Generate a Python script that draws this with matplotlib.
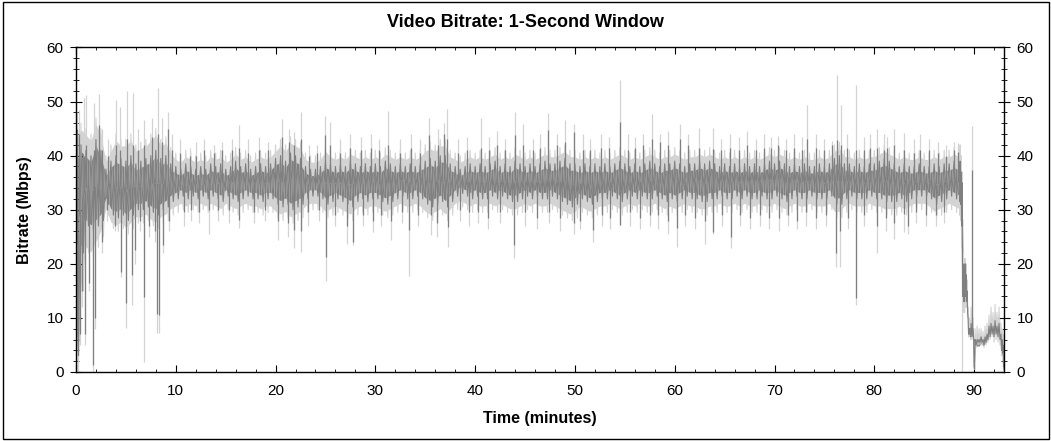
import numpy as np
import matplotlib
matplotlib.use("Agg")
import matplotlib.pyplot as plt
from matplotlib.ticker import MultipleLocator
from matplotlib.patches import Rectangle

plt.rcParams['font.family'] = ['Liberation Sans', 'DejaVu Sans']

# band values every 0.5 minutes from 0 to 88.5 (one row = 5 minutes)
light_hi = [
    44, 46, 45, 44, 47, 45, 40, 42, 44, 43,
    43, 44, 42, 42.5, 43, 44, 45, 43, 43.5, 41.5,
    40.5, 40, 41, 40.5, 40, 40.5, 40, 41, 40.5, 41,
    40, 40.5, 41.5, 40.5, 41, 40, 40.5, 41, 40.5, 41,
    42, 43, 42, 43.5, 43, 42.5, 40.5, 40, 40, 40.5,
    42, 41, 40.5, 41, 40.5, 41.5, 41, 40.5, 41, 40.5,
    41, 40.5, 41.5, 41, 40.5, 41, 40.5, 41, 40.5, 41,
    42, 42.5, 42, 43, 43, 41, 40.5, 40, 40.5, 41,
    40.5, 41, 40.5, 41, 41.5, 40.5, 41, 40.5, 41.5, 41,
    40.5, 41, 40.5, 41, 41.5, 41, 41, 41.5, 42, 41,
    41, 40.5, 41, 40.5, 41, 40.5, 41, 40.5, 41, 41.5,
    41, 40.5, 41, 40.5, 41, 41.5, 41, 40.5, 41, 41,
    41.5, 41, 40.5, 41, 41, 41.5, 41, 41.5, 41, 40.5,
    41, 40.5, 41, 40.5, 41, 40.5, 41, 40.5, 41, 41.5,
    41, 41.5, 41, 40.5, 41, 40.5, 41, 40.5, 40.5, 41,
    40.5, 41, 42, 42.5, 41, 41, 40.5, 41, 40.5, 41,
    41, 41.5, 42, 41.5, 41, 40.5, 41, 40.5, 40.5, 41,
    40.5, 40.5, 41, 40.5, 41, 41, 41.5, 41,
]
dark_hi = [
    40, 42, 41, 40, 43, 41, 37.5, 39, 40, 39.5,
    39, 40, 38.5, 39, 39.5, 40, 41, 39.5, 40, 38.5,
    38, 37.5, 38.5, 38, 37.5, 38, 37.5, 38.5, 38, 38.5,
    37.5, 38, 39, 38, 38.5, 37.5, 38, 38.5, 38, 38.5,
    39.5, 40, 39, 40.5, 40, 39.5, 38, 37.5, 37.5, 38,
    39, 38.5, 38, 38.5, 38, 39, 38.5, 38, 38.5, 38,
    38.5, 38, 39, 38.5, 38, 38.5, 38, 38.5, 38, 38.5,
    39, 39.5, 39, 40, 40, 38.5, 38, 37.5, 38, 38.5,
    38, 38.5, 38, 38.5, 39, 38, 38.5, 38, 39, 38.5,
    38, 38.5, 38, 38.5, 39, 38.5, 38.5, 39, 39.5, 38.5,
    38.5, 38, 38.5, 38, 38.5, 38, 38.5, 38, 38.5, 39,
    38.5, 38, 38.5, 38, 38.5, 39, 38.5, 38, 38.5, 38.5,
    39, 38.5, 38, 38.5, 38.5, 39, 38.5, 39, 38.5, 38,
    38.5, 38, 38.5, 38, 38.5, 38, 38.5, 38, 38.5, 39,
    38.5, 39, 38.5, 38, 38.5, 38, 38.5, 38, 38, 38.5,
    38, 38.5, 39.5, 40, 38.5, 38.5, 38, 38.5, 38, 38.5,
    38.5, 39, 39.5, 39, 38.5, 38, 38.5, 38, 38, 38.5,
    38, 38, 38.5, 38, 38.5, 38.5, 39, 38.5,
]
dark_lo = [
    3, 22, 27, 26, 27, 28, 31, 29, 28.5, 29,
    28, 29, 30, 30, 30.5, 29.5, 29, 30, 30.5, 31.5,
    32, 32.5, 32, 32.5, 32, 32.5, 32, 32.5, 32, 31.5,
    32.5, 32, 31.5, 32, 32.5, 32, 32, 31.5, 32, 32,
    31, 30.5, 31, 30, 30.5, 31, 32, 32.5, 32.5, 32,
    31, 31.5, 32, 31.5, 31, 30.5, 31.5, 32, 31.5, 32,
    32, 31.5, 31, 31.5, 32, 32.5, 32, 32, 32.5, 32,
    31, 30.5, 31, 31.5, 30.5, 31.5, 32.5, 33, 32.5, 32,
    32.5, 32, 32, 32.5, 32, 32.5, 32, 31.5, 31.5, 32,
    32.5, 32, 32.5, 32, 32, 32.5, 32, 31.5, 31, 30.5,
    31, 32, 31.5, 31, 31.5, 32, 32, 32.5, 32, 31.5,
    32, 32.5, 32, 32.5, 32, 32, 32.5, 32, 31.5, 32,
    31.5, 32, 32.5, 32, 32, 31.5, 31.5, 32, 32, 32.5,
    32, 32, 32.5, 32, 32.5, 32, 32, 32.5, 32, 32,
    32.5, 32, 31.5, 32, 32.5, 32, 32, 32.5, 32, 32,
    32, 32.5, 31, 31, 32, 32.5, 32, 32, 32, 32.5,
    32, 32, 31.5, 31.5, 31.5, 32, 31.5, 32, 32.5, 32.5,
    32.5, 32, 31, 31.5, 32, 32.5, 32, 31.5,
]
light_lo = [
    0, 15, 22, 21, 23, 25, 29, 26.5, 26, 26.5,
    25.5, 26.5, 27.5, 27.5, 28, 27, 26.5, 27.5, 28, 29,
    29.5, 30, 29.5, 30, 29.5, 30, 29.5, 30, 29.5, 29,
    30, 29.5, 29, 29.5, 30, 29.5, 29.5, 29, 29.5, 29.5,
    28.5, 28, 28.5, 27.5, 28, 28.5, 29.5, 30, 30, 29.5,
    28.5, 29, 29.5, 29, 28.5, 28, 29, 29.5, 29, 29.5,
    29.5, 29, 28.5, 29, 29.5, 30, 29.5, 29.5, 30, 29.5,
    28.5, 28, 28.5, 29, 28, 29, 30, 30.5, 30, 29.5,
    30, 29.5, 29.5, 30, 29.5, 30, 29.5, 29, 29, 29.5,
    30, 29.5, 30, 29.5, 29.5, 30, 29.5, 29, 28.5, 28,
    28.5, 29.5, 29, 28.5, 29, 29.5, 29.5, 30, 29.5, 29,
    29.5, 30, 29.5, 30, 29.5, 29.5, 30, 29.5, 29, 29.5,
    29, 29.5, 30, 29.5, 29.5, 29, 29, 29.5, 29.5, 30,
    29.5, 29.5, 30, 29.5, 30, 29.5, 29.5, 30, 29.5, 29.5,
    30, 29.5, 29, 29.5, 30, 29.5, 29.5, 30, 29.5, 29.5,
    29.5, 30, 28.5, 28.5, 29.5, 30, 29.5, 29.5, 29.5, 30,
    29.5, 29.5, 29, 29, 29, 29.5, 29, 29.5, 30, 30,
    30, 29.5, 28.5, 29, 29.5, 30, 29.5, 29,
]

# end of the programme (minutes 88.6 - 93)
tail_t = [88.6, 88.7, 88.8, 88.9, 89.0, 89.1, 89.2, 89.3, 89.4, 89.5,
          89.6, 89.7, 89.9, 90.0, 90.1, 90.3, 90.5, 90.7, 90.9, 91.1,
          91.3, 91.5, 91.7, 91.9, 92.1, 92.3, 92.5, 92.7, 92.8, 92.9, 93.0]
tail_light_hi = [42, 40, 37, 22, 21, 21, 20, 17, 12, 10, 9.5, 12, 10, 2, 8,
                 8.5, 8, 8, 7.5, 8.5, 9, 10.5, 12, 11, 12.5, 11, 12, 9, 8, 7, 2]
tail_dark_hi = [39, 37, 35, 20, 19, 20, 18, 15, 10, 8, 8, 9, 8, 1, 6,
                6, 6, 6.5, 6, 6.5, 7, 8.5, 9, 8.5, 9.5, 8.5, 9, 7, 6, 5, 1]
tail_dark_lo = [31, 27, 14, 13, 13, 14, 13, 11, 7, 7, 6.5, 6.5, 6.5, 0.5, 5,
                5.5, 5.5, 5.5, 5, 5.5, 6, 6.5, 7, 6.5, 7, 6.5, 6, 4, 3.5, 1, 0]
tail_light_lo = [28, 23, 11, 11, 11, 12, 12, 10, 6.5, 6.5, 6, 6, 6, 0.5, 4.5,
                 5, 5, 5, 4.5, 5, 5.5, 6, 6.5, 5.5, 6, 5.5, 5, 3, 3, 0.5, 0]

# upward peaks: time, light top, dark top
up_t = [0.1, 0.35, 0.77, 1.0, 1.84, 2.34, 2.6, 3.2, 4.0, 4.42, 5.15, 5.68, 6.2,
        6.85, 7.6, 8.2, 8.6, 9.2, 9.6, 10.4, 11.4, 12.0, 12.8, 13.8, 14.6, 15.6,
        16.3, 17.2, 18.3, 19.2, 20.6, 21.3, 21.8, 22.5, 23.4, 24.2, 25.0, 25.45,
        26.5, 27.5, 28.6, 29.6, 30.4, 31.3, 32.5, 33.6, 34.5, 35.4, 36.3, 36.9,
        37.2, 38.3, 39.2, 40.6, 41.4, 42.2, 43.0, 44.0, 44.8, 45.8, 46.5, 47.3,
        48.2, 49.0, 49.9, 50.8, 51.5, 52.6, 53.4, 54.5, 55.3, 56.0, 56.8, 57.7,
        58.5, 59.3, 60.5, 61.3, 62.4, 63.8, 64.6, 65.5, 66.4, 67.2, 68.1, 68.9,
        69.6, 70.4, 71.2, 72.0, 72.8, 73.3, 74.2, 75.0, 75.8, 76.3, 76.7, 77.3,
        78.2, 79.0, 79.6, 80.3, 81.0, 81.3, 82.0, 83.0, 84.0, 84.6, 85.5, 86.4,
        87.2, 88.0, 88.4, 89.78]
up_light = [48, 48.5, 50.6, 51.2, 49.7, 51.4, 45, 43, 50.3, 49, 52, 51.6, 45,
            46.6, 47, 52.5, 47, 48, 44, 43, 41.5, 42.5, 43, 42, 42.6, 43,
            45.6, 43, 43.5, 42.5, 46.7, 45, 44.4, 48.1, 42, 42, 47.4, 46.3,
            43, 44, 43.5, 44, 43, 48.2, 43, 44, 43, 47.0, 45, 46,
            48.7, 43, 43.5, 46.9, 43.5, 44.5, 43, 48.1, 45.8, 43, 44, 47.9,
            44, 46.6, 45.9, 44, 43, 44, 43.5, 53.9, 44, 43.5, 44, 47.7,
            44, 44.5, 45.9, 44, 45.2, 45.2, 43, 44, 43.5, 44.5, 43, 44,
            43.5, 43.7, 43, 44, 43.5, 49.3, 44, 43, 42.8, 54.9, 49.3, 44,
            53, 43.5, 44, 45.0, 44, 43.5, 45, 44.1, 43, 44, 43, 42.5,
            42, 42.5, 42.3, 45.5]
up_dark = [45, 44, 40, 42, 41, 45.6, 41, 40, 42, 41, 43, 42, 41,
           42, 43.5, 44, 42.5, 45, 41, 40.5, 40, 40, 41, 40.5, 41, 41,
           41.5, 40.5, 41, 41, 43.5, 42.5, 42, 43, 40, 40.5, 43.8, 42,
           40.5, 41.5, 41, 41.5, 41, 42, 40.5, 41.5, 40.5, 43.9, 42, 44,
           43, 40.5, 41, 41.5, 41, 42, 41, 43.8, 42, 41, 41.5, 44.7,
           42, 42.5, 44.4, 41, 41, 41.5, 41.5, 46.3, 41, 41.5, 42, 43,
           42.5, 42, 43, 42, 41.5, 41.3, 41, 41.5, 41, 42, 41, 41.5,
           41.5, 42, 41, 41.5, 41, 43.1, 41.5, 41, 42, 42.9, 42, 41.5,
           41, 41, 41.5, 41.5, 41, 41.5, 42, 41, 40.5, 41, 41, 40.5,
           40, 41, 40.7, 37.3]

# downward drops: time, light bottom, dark bottom
down_t = [0.05, 0.2, 0.4, 0.6, 0.9, 1.3, 1.7, 1.86, 2.6, 3.1, 3.9, 4.48, 5.0,
          5.65, 5.9, 6.4, 6.85, 7.3, 7.9, 8.1, 8.3, 8.7, 9.3, 10.8, 11.5, 12.3,
          13.3, 14.2, 15.3, 16.3, 17.8, 18.9, 20.2, 21.2, 21.8, 22.5, 23.3, 24.4,
          25.1, 26.0, 27.2, 27.8, 28.8, 29.8, 30.6, 31.6, 32.7, 33.4, 34.3, 35.6,
          36.2, 37.3, 38.5, 39.4, 40.3, 41.3, 42.5, 43.9, 45.0, 46.2, 47.4, 48.5,
          49.9, 50.5, 51.8, 52.7, 53.5, 54.5, 55.5, 56.5, 57.5, 58.3, 59.3, 60.2,
          61.0, 62.0, 63.0, 63.8, 64.7, 65.6, 66.5, 67.5, 68.5, 69.4, 70.5, 71.4,
          72.3, 73.2, 74.2, 75.2, 76.2, 76.6, 77.4, 78.2, 79.0, 80.3, 81.2, 82.0,
          83.0, 83.4, 84.2, 85.2, 86.2, 87.0, 88.75]
down_light = [0, 3, 5, 12, 5, 15, 0, 8, 22, 28, 26, 17.5, 8.1,
              12.4, 20, 26, 1.8, 25, 24, 7.2, 7.2, 22, 26, 27, 28, 27.5,
              25.5, 28, 27.5, 26.6, 27.5, 28, 24.4, 25, 23, 22.1, 27, 28,
              16.9, 27, 23.7, 23.5, 27, 25.9, 27, 24.4, 27.5, 17.8, 27, 25.3,
              25, 23.1, 28, 27, 27.5, 26.5, 27.5, 21.0, 27, 26.5, 27.5, 26,
              25.6, 26.5, 24.0, 27, 26.5, 27.2, 27, 26.5, 27, 26.5, 25.6, 23.1,
              27, 26.5, 23.7, 25.5, 27, 22.9, 27, 26.5, 27, 26.5, 26, 27,
              26.5, 27, 26.5, 27, 19.5, 19.5, 26.5, 12.4, 27, 22.0, 26, 24.5,
              25.8, 25.5, 27.5, 27, 27, 27.5, 0]
down_dark = [0, 6, 7, 15, 7, 16.5, 1.3, 10, 24, 30, 27, 18.5, 12.8,
             17.9, 22.5, 28, 13.9, 27, 26, 10.7, 10.5, 23.5, 28, 29.5, 30, 29.5,
             30, 30, 30, 28.1, 29.5, 30, 28, 27.5, 26.2, 26, 29.5, 30,
             21.3, 29, 27, 24, 29, 28, 29, 28, 29.5, 26.2, 29, 29,
             27.5, 26.8, 30, 29.5, 29.5, 28.5, 29.5, 23.5, 29.5, 28.5, 29.5, 28.5,
             27.5, 28, 26.2, 29, 28.5, 27.2, 29.5, 28.5, 29, 29, 28, 26.6,
             29, 28.5, 28, 25.8, 29, 25.0, 29, 28.5, 29, 28.5, 28.5, 29,
             28, 29.5, 28.5, 29, 22.0, 26, 28.5, 13.6, 29, 27, 28.5, 27.5,
             29.3, 27, 29.5, 29, 29, 29.5, 27]

light_grey = '#d3d3d3'
dark_grey = '#808080'

t = np.concatenate([np.arange(len(dark_hi)) * 0.5, tail_t])
l_hi = np.concatenate([light_hi, tail_light_hi])
d_hi = np.concatenate([dark_hi, tail_dark_hi])
d_lo = np.concatenate([dark_lo, tail_dark_lo])
l_lo = np.concatenate([light_lo, tail_light_lo])
mid = (d_hi + d_lo) / 2


def zigzag(times, lo, hi):
    # alternate between the top and bottom of a band so the edge looks ragged
    half = np.diff(times, append=times[-1] + 0.1) / 2
    xs = np.empty(2 * len(times))
    ys = np.empty(2 * len(times))
    xs[0::2], ys[0::2] = times, hi
    xs[1::2], ys[1::2] = times + half, lo
    return xs, ys


fig = plt.figure(figsize=(10.51, 4.41), dpi=100)
ax = fig.add_axes([0.0723, 0.1565, 0.8830, 0.7358])

# light (peak) series
lx, ly = zigzag(t, l_lo, l_hi)
ax.fill_between(t, l_lo + 1.2, l_hi - 1.2, color=light_grey, lw=0)
ax.plot(lx, ly, color=light_grey, lw=0.8)
ax.vlines(up_t, np.interp(up_t, t, mid), up_light, color=light_grey, lw=0.9)
ax.vlines(down_t, down_light, np.interp(down_t, t, mid), color=light_grey, lw=0.9)

# dark series
dx, dy = zigzag(t, d_lo, d_hi)
ax.fill_between(t, d_lo + 1.2, d_hi - 1.2, color=dark_grey, lw=0)
ax.plot(dx, dy, color=dark_grey, lw=0.8)
ax.vlines(up_t, np.interp(up_t, t, mid), up_dark, color=dark_grey, lw=0.9)
ax.vlines(down_t, down_dark, np.interp(down_t, t, mid), color=dark_grey, lw=0.9)

ax.set_xlim(0, 93)
ax.set_ylim(0, 60)
ax.set_xticks(range(0, 91, 10))
ax.set_yticks(range(0, 61, 10))
ax.xaxis.set_minor_locator(MultipleLocator(2))
ax.yaxis.set_minor_locator(MultipleLocator(2))
ax.tick_params(axis='x', which='both', direction='in', top=True, bottom=True,
               labelsize=11, pad=9)
ax.tick_params(axis='x', which='major', length=5)
ax.tick_params(axis='x', which='minor', length=2.5)
ax.tick_params(axis='y', which='both', direction='inout', left=True, right=True,
               labelleft=True, labelright=True, labelsize=11, pad=5)
ax.tick_params(axis='y', which='major', length=8)
ax.tick_params(axis='y', which='minor', length=4)
for s in ax.spines.values():
    s.set_linewidth(1)

fig.text(0.5, 0.948, 'Video Bitrate: 1-Second Window', fontsize=13,
         fontweight='bold', ha='center', va='center')
ax.set_xlabel('Time (minutes)', fontsize=11.5, fontweight='bold')
ax.set_ylabel('Bitrate (Mbps)', fontsize=11.5, fontweight='bold')
ax.xaxis.set_label_coords(0.5, -0.12)
ax.yaxis.set_label_coords(-0.047, 0.5)

fig.patches.append(Rectangle((0.003, 0.005), 0.995, 0.991, transform=fig.transFigure,
                             fill=False, ec='black', lw=1))

fig.savefig('out.png', dpi=100)
